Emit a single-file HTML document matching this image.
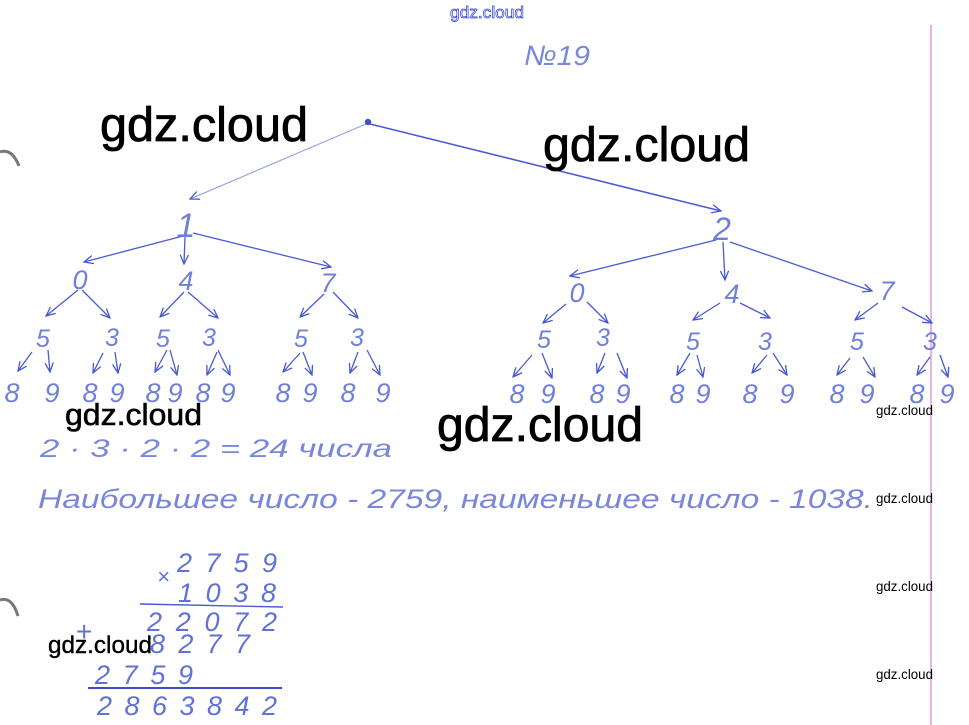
<!DOCTYPE html>
<html><head><meta charset="utf-8"><style>
html,body{margin:0;padding:0;background:#fff;}
svg{display:block;}
.h{font-family:"Liberation Sans",sans-serif;font-style:italic;fill:#6072d6;}
.w{font-family:"Liberation Sans",sans-serif;fill:#000;stroke:#000;}
</style></head><body>
<svg width="969" height="725" viewBox="0 0 969 725" xmlns="http://www.w3.org/2000/svg">
<defs>
<marker id="m" viewBox="0 0 12 12" refX="11" refY="6" markerWidth="11" markerHeight="11" orient="auto" markerUnits="userSpaceOnUse">
<path d="M1,1.5 L11,6 L1,10.5" fill="none" stroke="#4657d2" stroke-width="1.4"/>
</marker>
</defs>
<rect width="969" height="725" fill="#fff"/>
<!-- pink margin line -->
<line x1="931" y1="25" x2="931" y2="725" stroke="#d98ad8" stroke-width="1.3"/>
<!-- binder hole shadows -->
<path d="M0,152 Q12,148 19,166" fill="none" stroke="#777" stroke-width="3"/>
<path d="M0,600 Q12,596 18,616" fill="none" stroke="#777" stroke-width="3"/>

<!-- top watermark -->
<text x="450" y="18" font-family="Liberation Sans,sans-serif" font-size="17" fill="#fff" stroke="#2a3bd0" stroke-width="0.7" textLength="74" lengthAdjust="spacingAndGlyphs">gdz.cloud</text>
<text class="h" x="524" y="65" font-size="28" textLength="66" lengthAdjust="spacingAndGlyphs" fill-opacity="0.85">№19</text>

<g stroke="#4a5bd4" stroke-width="1.3" fill="none" marker-end="url(#m)">
<line x1="366" y1="124" x2="190" y2="199" stroke="#8f9be0" stroke-width="1"/>
<line x1="370" y1="124" x2="721" y2="211" stroke-width="1.6"/>
<line x1="183" y1="236" x2="84" y2="262"/>
<line x1="185" y1="237" x2="184" y2="264"/>
<line x1="193" y1="233" x2="331" y2="267"/>
<line x1="716" y1="240" x2="570" y2="276"/>
<line x1="723" y1="242" x2="725" y2="280"/>
<line x1="730" y1="242" x2="872" y2="291"/>
<line x1="78" y1="290" x2="46" y2="316"/>
<line x1="82" y1="290" x2="110" y2="318"/>
<line x1="184" y1="292" x2="160" y2="317"/>
<line x1="188" y1="292" x2="218" y2="318"/>
<line x1="324" y1="294" x2="300" y2="317"/>
<line x1="333" y1="292" x2="358" y2="318"/>
<line x1="566" y1="304" x2="543" y2="323"/>
<line x1="587" y1="302" x2="608" y2="323"/>
<line x1="720" y1="303" x2="693" y2="320"/>
<line x1="740" y1="303" x2="770" y2="318"/>
<line x1="878" y1="303" x2="855" y2="320"/>
<line x1="902" y1="307" x2="932" y2="323"/>
<line x1="32" y1="352" x2="18" y2="371"/>
<line x1="48" y1="350" x2="50" y2="372"/>
<line x1="103" y1="353" x2="93" y2="373"/>
<line x1="115" y1="352" x2="118" y2="373"/>
<line x1="167" y1="350" x2="155" y2="372"/>
<line x1="170" y1="350" x2="177" y2="375"/>
<line x1="217" y1="352" x2="207" y2="375"/>
<line x1="218" y1="350" x2="230" y2="375"/>
<line x1="300" y1="353" x2="283" y2="372"/>
<line x1="303" y1="352" x2="312" y2="375"/>
<line x1="358" y1="352" x2="350" y2="373"/>
<line x1="367" y1="350" x2="380" y2="375"/>
<line x1="532" y1="355" x2="513" y2="377"/>
<line x1="542" y1="353" x2="552" y2="378"/>
<line x1="605" y1="353" x2="597" y2="373"/>
<line x1="617" y1="353" x2="627" y2="378"/>
<line x1="690" y1="353" x2="677" y2="375"/>
<line x1="697" y1="355" x2="703" y2="377"/>
<line x1="767" y1="355" x2="752" y2="373"/>
<line x1="773" y1="353" x2="787" y2="375"/>
<line x1="850" y1="358" x2="837" y2="375"/>
<line x1="863" y1="357" x2="875" y2="377"/>
<line x1="930" y1="357" x2="917" y2="375"/>
<line x1="940" y1="355" x2="948" y2="377"/>
</g>
<circle cx="368" cy="122" r="3.2" fill="#3b4fd0"/>

<g class="h" text-anchor="middle" fill-opacity="0.9">
<text x="186" y="237" font-size="34">1</text>
<text x="722" y="240" font-size="32">2</text>
<g font-size="27">
<text x="80" y="289">0</text><text x="186" y="290">4</text><text x="328" y="292">7</text>
<text x="577" y="302">0</text><text x="732" y="303">4</text><text x="887" y="300">7</text>
</g>
<g font-size="25">
<text x="43" y="347">5</text><text x="112" y="346">3</text><text x="163" y="347">5</text><text x="209" y="346">3</text><text x="301" y="347">5</text><text x="357" y="346">3</text>
<text x="544" y="348">5</text><text x="603" y="346">3</text><text x="693" y="350">5</text><text x="765" y="350">3</text><text x="857" y="350">5</text><text x="930" y="350">3</text>
</g>
<g font-size="27">
<text x="12" y="402">8</text><text x="52" y="402">9</text><text x="90" y="402">8</text><text x="117" y="402">9</text><text x="153" y="402">8</text><text x="175" y="402">9</text><text x="203" y="402">8</text><text x="228" y="402">9</text><text x="283" y="402">8</text><text x="310" y="402">9</text><text x="348" y="402">8</text><text x="383" y="402">9</text>
<text x="517" y="403">8</text><text x="548" y="403">9</text><text x="597" y="403">8</text><text x="623" y="403">9</text><text x="677" y="403">8</text><text x="703" y="403">9</text><text x="750" y="403">8</text><text x="787" y="403">9</text><text x="837" y="403">8</text><text x="867" y="403">9</text><text x="917" y="403">8</text><text x="947" y="403">9</text>
</g>
</g>

<!-- text lines -->
<text class="h" x="40" y="457" font-size="25" textLength="352" lengthAdjust="spacingAndGlyphs" fill-opacity="0.85">2 · 3 · 2 · 2 = 24   числа</text>
<text class="h" x="38" y="508" font-size="27" textLength="835" lengthAdjust="spacingAndGlyphs" fill-opacity="0.85">Наибольшее  число  - 2759, наименьшее  число  - 1038.</text>

<!-- multiplication -->
<g class="h" font-size="27" fill="#4a5cd4">
<text x="157" y="584" font-size="22">×</text>
<text x="177" y="572" textLength="100" lengthAdjust="spacing">2759</text>
<text x="178" y="602" textLength="98" lengthAdjust="spacing">1038</text>
<text x="147" y="631" textLength="130" lengthAdjust="spacing">22072</text>
<text x="76" y="641" font-size="28" font-style="normal">+</text>
<text x="150" y="653" textLength="100" lengthAdjust="spacing">8277</text>
<text x="95" y="684" textLength="98" lengthAdjust="spacing">2759</text>
<text x="97" y="715" textLength="180" lengthAdjust="spacing">2863842</text>
</g>
<line x1="140" y1="604" x2="283" y2="607" stroke="#4a5bd4" stroke-width="1.4"/>
<line x1="88" y1="688" x2="282" y2="688" stroke="#3a4cd0" stroke-width="2"/>

<!-- watermarks -->
<g class="w">
<text x="100" y="141" font-size="48" stroke-width="0.8" textLength="208" lengthAdjust="spacingAndGlyphs">gdz.cloud</text>
<text x="543" y="161" font-size="48" stroke-width="0.8" textLength="207" lengthAdjust="spacingAndGlyphs">gdz.cloud</text>
<text x="65" y="425" font-size="31" stroke-width="0.6" textLength="137" lengthAdjust="spacingAndGlyphs">gdz.cloud</text>
<text x="437" y="441" font-size="48" stroke-width="0.8" textLength="206" lengthAdjust="spacingAndGlyphs">gdz.cloud</text>
<text x="48" y="653" font-size="24" stroke-width="0.4" textLength="104" lengthAdjust="spacingAndGlyphs">gdz.cloud</text>
<text x="876" y="415" font-size="14" stroke-width="0" textLength="57" lengthAdjust="spacingAndGlyphs">gdz.cloud</text>
<text x="876" y="503" font-size="14" stroke-width="0" textLength="57" lengthAdjust="spacingAndGlyphs">gdz.cloud</text>
<text x="876" y="591" font-size="14" stroke-width="0" textLength="57" lengthAdjust="spacingAndGlyphs">gdz.cloud</text>
<text x="876" y="679" font-size="14" stroke-width="0" textLength="57" lengthAdjust="spacingAndGlyphs">gdz.cloud</text>
</g>
</svg>
</body></html>
